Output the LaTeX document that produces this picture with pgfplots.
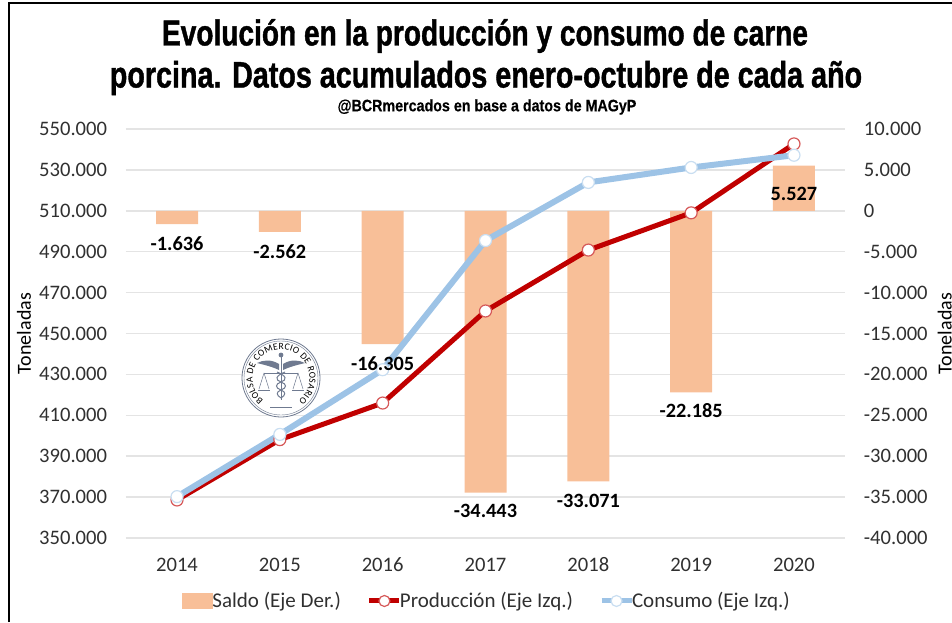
\documentclass[border=0pt]{standalone}
\usepackage{fontspec}
\usepackage{pgfplots}
\pgfplotsset{compat=1.18}
\usepackage{pgfplotstable}
\usetikzlibrary{decorations.text}
\setmainfont{Carlito}
\newfontfamily\titlef[FakeStretch=0.78,FakeBold=1.1]{Liberation Sans Bold}
\newfontfamily\subf[FakeStretch=0.86,FakeBold=0.4]{Liberation Sans Bold}
\definecolor{barc}{HTML}{F8BF98}
\definecolor{prodc}{HTML}{C00000}
\definecolor{consc}{HTML}{9DC3E6}
\definecolor{gridc}{HTML}{E4E4E4}
\definecolor{tickc}{HTML}{303030}
\definecolor{logoc}{HTML}{6F7A90}
\pgfplotstableread{
x saldo
0 -1636
1 -2562
2 -16305
3 -34443
4 -33071
5 -22185
6 5527
}\saldo
\pgfplotstableread{
x prod cons
0 368600 370236
1 398100 400662
2 416000 432305
3 461000 495443
4 490800 523871
5 509000 531185
6 542700 537173
}\lineas
\pgfplotstableread{
x y label
0 -4034 -1.636
1 -5012 -2.562
2 -18704 -16.305
3 -36675 -34.443
4 -35452 -33.071
5 -24450 -22.185
6 2078 5.527
}\etiquetas
\pgfplotsset{base/.style={
  scale only axis, width=719.8pt, height=409pt,
  at={(125.6pt,84pt)}, anchor=south west,
  xmin=-0.5, xmax=6.5,
  major tick length=0pt,
  scaled y ticks=false,
  tick label style={font=\fontsize{20.6}{22}\selectfont, text=tickc, text height=13pt, text depth=0pt},
}}
\begin{document}
\begin{tikzpicture}[x=1pt,y=1pt]
\useasboundingbox (0,0) rectangle (952,622);
\clip (0,0) rectangle (952,622);
\draw[black,line width=1.6pt] (9,0) -- (9,619) -- (952,619);
% bars and grid (right axis)
\begin{axis}[base,
  axis x line=none,
  axis y line*=right, axis line style={draw=none},
  ymin=-40000, ymax=10000,
  ytick={-40000,-35000,-30000,-25000,-20000,-15000,-10000,-5000,0,5000,10000},
  yticklabels={-40.000,-35.000,-30.000,-25.000,-20.000,-15.000,-10.000,-5.000,0,5.000,10.000},
  ymajorgrids, grid style={gridc,line width=1.5pt},
  ylabel={Toneladas},
  every axis y label/.style={at={(axis description cs:1.138,0.5)},rotate=90,anchor=center,font=\fontsize{20}{22}\selectfont, text=black},
  yticklabel style={anchor=west,xshift=15pt},
  ybar, bar width=42pt, bar shift=0pt,
]
\addplot[fill=barc,draw=none] table[x=x,y=saldo]{\saldo};
\end{axis}
% logo
\begin{scope}[shift={(281,244)},logoc]
  \fill[white] (0,0) circle (39);
  \draw[line width=0.8pt] (0,0) circle (39);
  \draw[line width=0.4pt] (0,0) circle (37);
  \path[decorate,decoration={text along path,reverse path=false,
    text={|\fontsize{9.5}{10}\selectfont|BOLSA DE COMERCIO DE ROSARIO},text align={fit to path}}]
    (232:28.5) arc (232:-52:28.5);
  \draw[line width=0.9pt] (0,23) -- (0,-22);
  \fill (0,23) circle (2.4);
  \fill (-2,14) .. controls (-10,19) and (-18,18) .. (-24,15) .. controls (-16,13) and (-8,11) .. (-2,8) -- cycle;
  \fill (2,14) .. controls (10,19) and (18,18) .. (24,15) .. controls (16,13) and (8,11) .. (2,8) -- cycle;
  \draw[line width=0.6pt] (-17,5) -- (17,5);
  \draw[line width=0.5pt] (-17,5) -- (-22,-11) (-17,5) -- (-12,-11) (17,5) -- (22,-11) (17,5) -- (12,-11);
  \draw[line width=0.9pt] (-23,-12) -- (-11,-12) (23,-12) -- (11,-12);
  \draw[line width=1pt] (-4,6) .. controls (6,2) and (6,-2) .. (0,-4) .. controls (-6,-6) and (-6,-10) .. (0,-12) .. controls (5,-14) and (5,-17) .. (0,-20);
  \draw[line width=1pt] (4,6) .. controls (-6,2) and (-6,-2) .. (0,-4) .. controls (6,-6) and (6,-10) .. (0,-12) .. controls (-5,-14) and (-5,-17) .. (0,-20);
  \draw[line width=0.4pt] (-11,-29) -- (11,-29);
\end{scope}
% lines (left axis)
\begin{axis}[base,
  axis x line*=bottom, axis y line*=left, axis line style={draw=none},
  ymin=350000, ymax=550000,
  ytick={350000,370000,390000,410000,430000,450000,470000,490000,510000,530000,550000},
  yticklabels={350.000,370.000,390.000,410.000,430.000,450.000,470.000,490.000,510.000,530.000,550.000},
  xtick={0,1,2,3,4,5,6}, xticklabels={2014,2015,2016,2017,2018,2019,2020},
  xticklabel style={yshift=-17pt},
  yticklabel style={anchor=east,xshift=-15pt},
  ylabel={Toneladas},
  every axis y label/.style={at={(axis description cs:-0.141,0.5)},rotate=90,anchor=center,font=\fontsize{20}{22}\selectfont, text=black},
  clip=false,
]
\addplot[prodc,line width=5pt,mark=*,mark size=6pt,mark options={fill=white,draw=prodc!65!white,line width=1.2pt}] table[x=x,y=prod]{\lineas};
\addplot[consc,line width=6pt,mark=*,mark size=6pt,mark options={fill=white,draw=consc!55!white,line width=1.2pt}] table[x=x,y=cons]{\lineas};
\end{axis}
% data labels and legend
\begin{axis}[base, hide axis, ymin=-40000, ymax=10000, clip=false,
  legend columns=3,
  legend style={at={(axis description cs:0.502,-0.154)},anchor=center,draw=none,fill=none,
    font=\fontsize{21}{22}\selectfont, text=tickc, inner sep=0pt,
    /tikz/column 2/.style={column sep=24pt},
    /tikz/column 4/.style={column sep=24pt}},
  legend cell align=left,
]
\addplot[draw=none,mark=none,forget plot,nodes near coords,point meta=explicit symbolic,
  nodes near coords style={anchor=center,font=\fontsize{20.3}{22}\selectfont\bfseries,text=black,inner sep=0pt}]
  table[x=x,y=y,meta=label]{\etiquetas};
\addlegendimage{legend image code/.code={\fill[barc] (-1pt,-7.5pt) rectangle (29pt,7.5pt);}}
\addlegendentry{\hspace{-2pt}Saldo (Eje Der.)}
\addlegendimage{legend image code/.code={
  \draw[prodc,line width=5pt] (0pt,0pt) -- (30pt,0pt);
  \draw[prodc!65!white,fill=white,line width=1.2pt] (15pt,0pt) circle (5.5pt);}}
\addlegendentry{\hspace{-4pt}Producción (Eje Izq.)}
\addlegendimage{legend image code/.code={
  \draw[consc,line width=5pt] (0pt,0pt) -- (30pt,0pt);
  \draw[consc!55!white,fill=white,line width=1.2pt] (15pt,0pt) circle (5.5pt);}}
\addlegendentry{\hspace{-4pt}Consumo (Eje Izq.)}
\end{axis}
% titles
\node[anchor=center,inner sep=0pt] at (485,586) {\fontsize{36}{38}\selectfont\titlef Evolución en la producción y consumo de carne};
\node[anchor=center,inner sep=0pt] at (486,544) {\fontsize{36.8}{38}\selectfont\titlef porcina. Datos acumulados enero-octubre de cada año};
\node[anchor=center,inner sep=0pt] at (487,515) {\fontsize{16.6}{18}\selectfont\subf @BCRmercados en base a datos de MAGyP};
\end{tikzpicture}
\end{document}
